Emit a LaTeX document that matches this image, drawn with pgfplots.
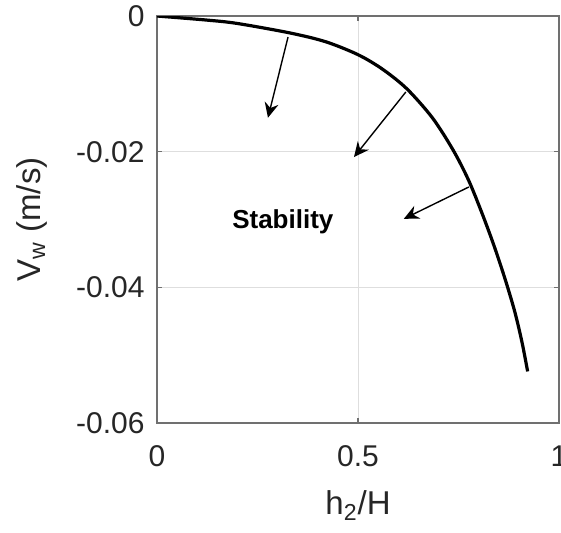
\documentclass[border=0pt]{standalone}
\usepackage{pgfplots}
\pgfplotsset{compat=1.18}
\usepackage{fontspec}
\setmainfont{Liberation Sans}
\usetikzlibrary{arrows.meta}
\definecolor{txt}{HTML}{262626}
\definecolor{axgray}{HTML}{707070}
\begin{document}
\begin{tikzpicture}
\begin{axis}[
    scale only axis,
    width=201bp, height=203.5bp,
    xmin=0, xmax=1, ymin=-0.06, ymax=0,
    scaled y ticks=false, scaled x ticks=false,
    xtick={0,0.5,1}, xticklabels={0,0.5,1},
    ytick={-0.06,-0.04,-0.02,0}, yticklabels={-0.06,-0.04,-0.02,0},
    grid=major,
    major grid style={draw=black!13, line width=0.5bp},
    axis line style={draw=axgray, line width=0.6bp},
    tick style={draw=axgray, line width=0.6bp},
    major tick length=2.5bp,
    tick align=inside,
    xtick pos=both, ytick pos=both,
    tick label style={font=\fontsize{15bp}{17bp}\selectfont, text=txt},
    xticklabel style={anchor=base, inner sep=0pt, yshift=-21.5bp},
    yticklabel style={anchor=east, inner sep=0pt, xshift=-6bp},
    xlabel={h\textsubscript{2}/H},
    ylabel={V\textsubscript{w} (m/s)},
    label style={font=\fontsize{16.5bp}{19bp}\selectfont, text=txt},
    xlabel style={at={(axis description cs:0.5,-0.226)}, anchor=base},
    ylabel style={at={(axis description cs:-0.291,0.5)}, anchor=base, rotate=0},
]
\addplot[black, line width=1.6bp, smooth] coordinates {
 (0,0) (0.124,-0.0006) (0.2,-0.0011) (0.331,-0.0025) (0.42,-0.0038)
 (0.5,-0.0057) (0.56,-0.0078) (0.621,-0.0107) (0.685,-0.0150) (0.737,-0.0198)
 (0.775,-0.0242) (0.808,-0.0290) (0.838,-0.0338) (0.866,-0.0388) (0.89,-0.0436)
 (0.908,-0.0481) (0.922,-0.0524)
};
\addplot[black, line width=0.7bp, -{Stealth[length=7.5bp, width=7bp, inset=2.5bp]}]
  coordinates {(0.326,-0.0031) (0.276,-0.0150)};
\addplot[black, line width=0.7bp, -{Stealth[length=7.5bp, width=7bp, inset=2.5bp]}]
  coordinates {(0.619,-0.0112) (0.490,-0.0208)};
\addplot[black, line width=0.7bp, -{Stealth[length=7.5bp, width=7bp, inset=2.5bp]}]
  coordinates {(0.776,-0.0252) (0.614,-0.0299)};
\node[font=\fontsize{13bp}{15bp}\selectfont\bfseries, text=black] at (axis cs:0.313,-0.0304) {Stability};
\end{axis}
\pgfresetboundingbox
\path (-78.5bp,-55bp) rectangle (202bp,211.5bp);
\end{tikzpicture}
\end{document}
